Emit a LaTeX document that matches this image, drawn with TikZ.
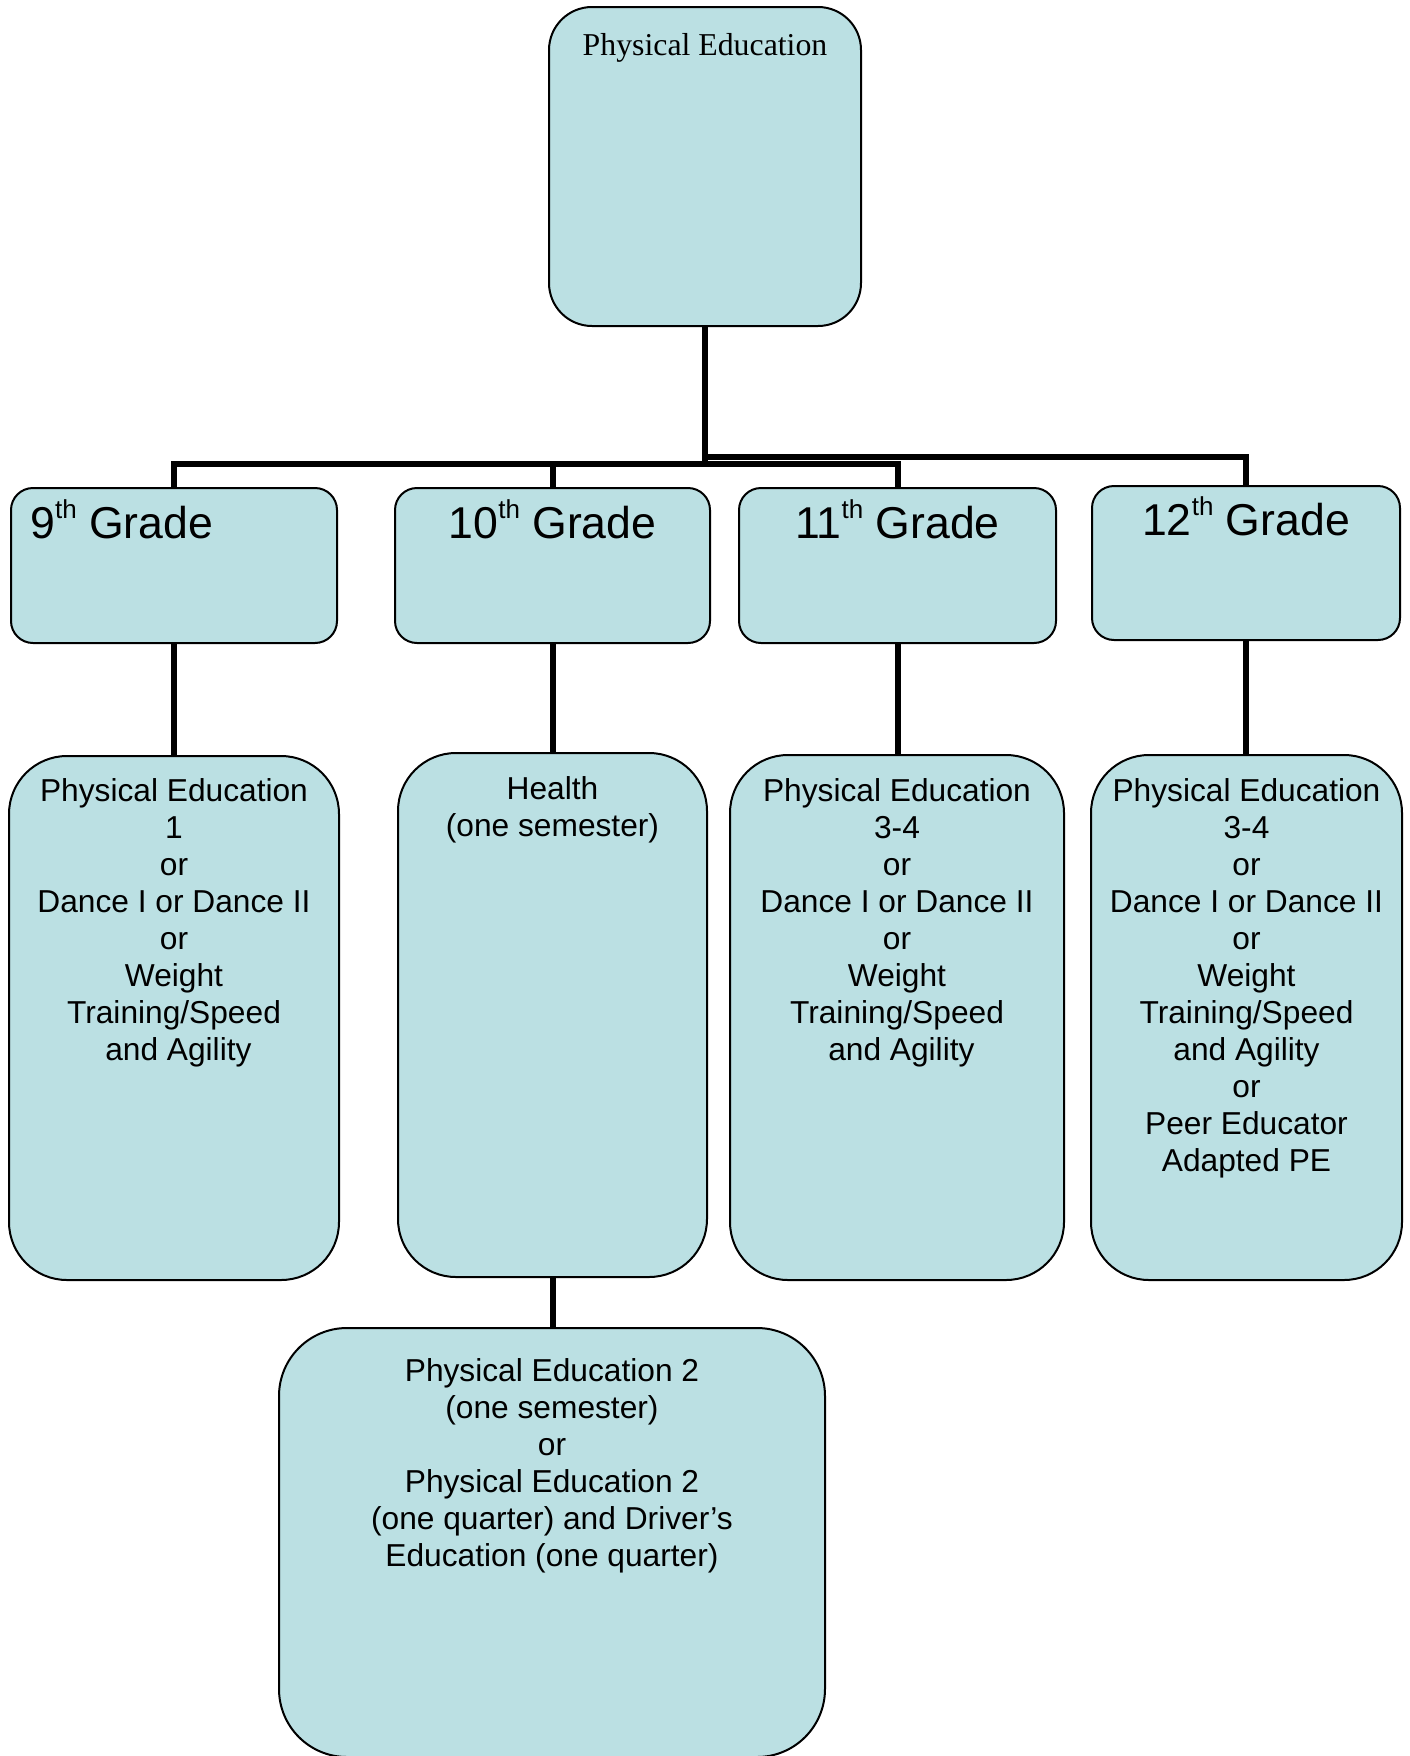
\documentclass[tikz,border=0pt]{standalone}
\usepackage{fontspec}
\setmainfont{Liberation Sans}
\newfontfamily\timesfont{Liberation Serif}
\definecolor{boxfill}{RGB}{187,224,227}
\newcommand\gradesup[1]{\raisebox{10pt}{\fontsize{13pt}{13pt}\selectfont #1}}
\begin{document}
\begin{tikzpicture}[x=0.5pt,y=-0.5pt,
  box/.style={draw=black, line width=1pt, fill=boxfill, inner sep=0pt},
  gradebox/.style={box, rounded corners=11pt, minimum height=77.5pt},
  coursebox/.style={box, rounded corners=29pt, minimum height=262pt},
  conn/.style={line width=3pt, draw=black},
  body/.style={font=\fontsize{15.85pt}{18.5pt}\selectfont, align=center, inner sep=0pt, anchor=north},
  gradetxt/.style={font=\fontsize{22.3pt}{26pt}\selectfont, inner sep=0pt, anchor=base},
]
\useasboundingbox (0,0) rectangle (1409,1756);
\clip (0,0) rectangle (1409,1756);

% top box
\node[box, rounded corners=21.5pt, minimum width=156pt, minimum height=159.5pt] (top) at (705,166.5) {};
\node[font=\timesfont\fontsize{15.9pt}{18pt}\selectfont, anchor=base, inner sep=0pt] (ttop) at (705,55) {Physical Education};

% grade boxes
\node[gradebox, minimum width=163pt] (g9) at (174,565.5) {};
\node[gradebox, minimum width=157.5pt] (g10) at (552.5,565.5) {};
\node[gradebox, minimum width=158.5pt] (g11) at (897.5,565.5) {};
\node[gradebox, minimum width=154pt, minimum height=77pt] (g12) at (1246,563) {};

\node[gradetxt, anchor=base west] (t9) at (30,538) {9\gradesup{th} Grade};
\node[gradetxt] (t10) at (552.5,538) {10\gradesup{th} Grade};
\node[gradetxt] (t11) at (897.5,538) {11\gradesup{th} Grade};
\node[gradetxt] (t12) at (1246,535) {12\gradesup{th} Grade};

% course boxes
\node[coursebox, minimum width=165pt] (c9) at (174,1018) {};
\node[coursebox, minimum width=154.5pt] (c10) at (552.5,1015) {};
\node[coursebox, minimum width=167pt, minimum height=262.5pt] (c11) at (897,1017.5) {};
\node[coursebox, minimum width=155.5pt, minimum height=262.5pt] (c12) at (1246.5,1017.5) {};
\node[box, rounded corners=34pt, minimum width=273pt, minimum height=214.5pt] (cb) at (552,1542.5) {};

\node[body] (x9) at (174,778.3) {Physical Education\\1\\or\\Dance I or Dance II\\or\\Weight\\Training/Speed\\\hspace*{4.4pt}and Agility};
\node[body] (x10) at (552.5,776.3) {Health\\(one semester)};
\node[body] (x11) at (897,778.3) {Physical Education\\3-4\\or\\Dance I or Dance II\\or\\Weight\\Training/Speed\\\hspace*{4.4pt}and Agility};
\node[body] (x12) at (1246.5,778.3) {Physical Education\\3-4\\or\\Dance I or Dance II\\or\\Weight\\Training/Speed\\and Agility\\or\\Peer Educator\\Adapted PE};
\node[body] (xb) at (552,1358.3) {Physical Education 2\\(one semester)\\or\\Physical Education 2\\(one quarter) and Driver’s\\Education (one quarter)};

% connectors
\coordinate (jA) at (705,457);
\coordinate (jB) at (705,464);
\draw[conn] (top.south) -- (jA) -| (g12.north);
\draw[conn] (jA) -- (jB);
\draw[conn] (jB) -| (g9.north);
\draw[conn] (jB) -| (g10.north);
\draw[conn] (jB) -| (g11.north);

\draw[conn] (g9.south) -- (c9.north);
\draw[conn] (g10.south) -- (c10.north);
\draw[conn] (g11.south) -- (g11.south |- c11.north);
\draw[conn] (g12.south) -- (g12.south |- c12.north);
\draw[conn] (c10.south) -- (c10.south |- cb.north);
\end{tikzpicture}
\end{document}
